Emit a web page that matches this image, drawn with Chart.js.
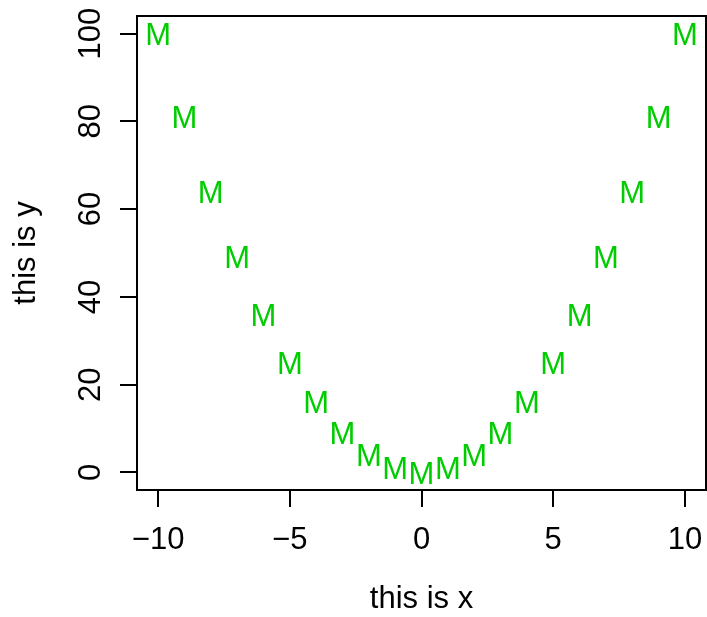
<!DOCTYPE html>
<html>
<head>
<meta charset="utf-8">
<script src="https://cdn.jsdelivr.net/npm/chart.js@4"></script>
<style>
  html, body { margin: 0; padding: 0; background: #fff; }
  #wrap { width: 707px; height: 617px; }
</style>
</head>
<body>
<div id="wrap"><canvas id="chart" width="707" height="617"></canvas></div>
<script>
'use strict';

// data: y = x^2 drawn with the letter M
const xValues = [-10, -9, -8, -7, -6, -5, -4, -3, -2, -1, 0, 1, 2, 3, 4, 5, 6, 7, 8, 9, 10];
const yValues = [100, 81, 64, 49, 36, 25, 16, 9, 4, 1, 0, 1, 4, 9, 16, 25, 36, 49, 64, 81, 100];
const xTicks = [-10, -5, 0, 5, 10];
const yTicks = [0, 20, 40, 60, 80, 100];
const pointLabel = 'M';
const xTitle = 'this is x';
const yTitle = 'this is y';

const FONT = 'Liberation Sans, Arial, Helvetica, sans-serif';
const SIZE = 31;
const GREEN = '#00cd00';

function fmt(v) {
  return v < 0 ? '\u2212' + Math.abs(v) : String(v);
}

const rPlot = {
  id: 'rPlot',
  beforeDraw(chart) {
    const ctx = chart.ctx;
    ctx.save();
    ctx.fillStyle = '#fff';
    ctx.fillRect(0, 0, chart.width, chart.height);
    ctx.restore();
  },
  afterDatasetsDraw(chart) {
    const ctx = chart.ctx;
    const meta = chart.getDatasetMeta(0);
    ctx.save();
    ctx.font = SIZE + 'px ' + FONT;
    ctx.fillStyle = GREEN;
    ctx.textAlign = 'center';
    ctx.textBaseline = 'alphabetic';
    meta.data.forEach(pt => {
      ctx.fillText(pointLabel, pt.x, pt.y + SIZE * 0.358);
    });
    ctx.restore();
  },
  afterDraw(chart) {
    const ctx = chart.ctx;
    const a = chart.chartArea;
    const xs = chart.scales.x;
    const ys = chart.scales.y;
    const tick = 17;
    ctx.save();
    ctx.strokeStyle = '#000';
    ctx.fillStyle = '#000';
    ctx.lineWidth = 2;
    ctx.strokeRect(a.left, a.top, a.right - a.left, a.bottom - a.top);

    ctx.font = SIZE + 'px ' + FONT;
    ctx.textAlign = 'center';
    ctx.textBaseline = 'alphabetic';

    // x axis
    ctx.beginPath();
    xTicks.forEach(v => {
      const px = Math.round(xs.getPixelForValue(v));
      ctx.moveTo(px, a.bottom);
      ctx.lineTo(px, a.bottom + tick);
    });
    ctx.stroke();
    xTicks.forEach(v => {
      ctx.fillText(fmt(v), xs.getPixelForValue(v), 549);
    });
    ctx.fillText(xTitle, (a.left + a.right) / 2, 608);

    // y axis
    ctx.beginPath();
    yTicks.forEach(v => {
      const py = Math.round(ys.getPixelForValue(v));
      ctx.moveTo(a.left, py);
      ctx.lineTo(a.left - tick, py);
    });
    ctx.stroke();
    yTicks.forEach(v => {
      ctx.save();
      ctx.translate(100, ys.getPixelForValue(v));
      ctx.rotate(-Math.PI / 2);
      ctx.fillText(fmt(v), 0, 0);
      ctx.restore();
    });
    ctx.save();
    ctx.translate(35, (a.top + a.bottom) / 2);
    ctx.rotate(-Math.PI / 2);
    ctx.fillText(yTitle, 0, 0);
    ctx.restore();
    ctx.restore();
  }
};

const ctx = document.getElementById('chart').getContext('2d');
new Chart(ctx, {
  type: 'scatter',
  data: {
    datasets: [{
      data: xValues.map((x, i) => ({ x: x, y: yValues[i] })),
      pointRadius: 0,
      pointHoverRadius: 0,
      showLine: false
    }]
  },
  options: {
    responsive: false,
    animation: false,
    devicePixelRatio: 1,
    layout: { padding: { left: 137, top: 16, right: 1, bottom: 127 } },
    plugins: { legend: { display: false }, tooltip: { enabled: false } },
    scales: {
      x: { type: 'linear', min: -10.8, max: 10.8, display: false },
      y: { type: 'linear', min: -4, max: 104, display: false }
    }
  },
  plugins: [rPlot]
});
</script>
</body>
</html>
